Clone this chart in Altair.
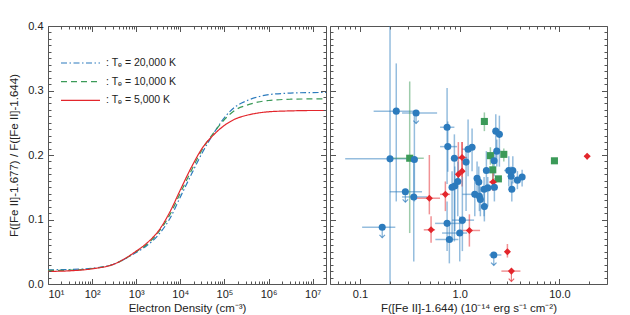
import altair as alt
import pandas as pd

# ---------------- Left panel: model line ratio vs electron density ----------------
density = [10, 31.6, 100, 316, 1000, 1778, 3162, 5623, 1e4, 17783, 31623, 56234,
           1e5, 177828, 316228, 562341, 1e6, 3.16e6, 1e7, 2e7]
ratio_te20000 = [0.022, 0.0225, 0.0245, 0.031, 0.049, 0.060, 0.076, 0.100, 0.135, 0.170,
                 0.204, 0.233, 0.258, 0.275, 0.284, 0.290, 0.2935, 0.296, 0.2968, 0.297]
ratio_te10000 = [0.021, 0.0215, 0.024, 0.031, 0.050, 0.062, 0.080, 0.106, 0.141, 0.176,
                 0.209, 0.234, 0.255, 0.270, 0.277, 0.282, 0.2845, 0.2865, 0.287, 0.2872]
ratio_te5000 = [0.0195, 0.0205, 0.0235, 0.031, 0.051, 0.064, 0.082, 0.110, 0.146, 0.181,
                0.211, 0.231, 0.246, 0.256, 0.2615, 0.265, 0.267, 0.2684, 0.269, 0.269]
temps = ["20,000", "10,000", "5,000"]
line_colors = ["#2c7bbd", "#3b9a58", "#e3262c"]
line_dashes = [[6, 2.5, 1.5, 2.5], [6, 4], [1, 0]]

# ---------------- Right panel: observed ratios vs [Fe II] 1.644 flux ----------------
flux = [0.231, 0.365, 0.747, 0.759, 0.200, 0.315, 0.351, 0.884, 1.056, 1.213,
        1.330, 1.767, 2.300, 2.500, 2.354, 2.030, 2.768, 2.211, 8.910, 18.97,
        1.158, 0.969, 1.056, 2.146, 1.851, 3.106, 3.408, 3.276, 4.225, 3.789,
        2.443, 2.161, 2.227, 3.330, 1.493, 1.553, 1.416, 1.755, 1.912, 1.575,
        1.611, 1.767, 0.956, 0.892, 0.838, 0.285, 0.346, 0.496, 0.718, 0.167,
        0.516, 0.747, 1.063, 1.000, 1.250, 0.787, 2.196, 3.008, 3.299]
ratio_obs = [0.268, 0.265, 0.243, 0.213, 0.194, 0.195, 0.193, 0.195, 0.196, 0.209,
             0.212, 0.252, 0.237, 0.232, 0.206, 0.199, 0.201, 0.191, 0.191, 0.198,
             0.189, 0.170, 0.175, 0.177, 0.176, 0.176, 0.176, 0.167, 0.166, 0.161,
             0.163, 0.158, 0.150, 0.147, 0.164, 0.158, 0.139, 0.147, 0.149, 0.136,
             0.131, 0.120, 0.159, 0.152, 0.150, 0.143, 0.135, 0.133, 0.139, 0.088,
             0.084, 0.094, 0.099, 0.079, 0.083, 0.069, 0.045, 0.050, 0.020]
flux_lo = [0.137, 0.264, 0.635, 0.635, 0.071, 0.209, 0.351, 0.838, 0.940, 1.056,
           1.330, 1.767, 2.300, 2.500, 2.354, 2.030, 2.768, 2.211, 8.910, 17.70,
           1.158, 0.969, 1.056, 2.146, 1.851, 2.787, 3.408, 3.276, 4.225, 3.789,
           2.211, 1.970, 2.227, 3.330, 1.493, 1.553, 1.063, 1.755, 1.912, 1.575,
           1.611, 1.767, 0.956, 0.892, 0.838, 0.199, 0.264, 0.360, 0.635, 0.105,
           0.436, 0.566, 0.838, 0.665, 1.008, 0.570, 1.970, 3.008, 2.618]
flux_hi = [0.365, 0.593, 0.884, 0.940, 0.332, 0.436, 0.351, 1.056, 1.185, 1.393,
           1.330, 1.767, 2.300, 2.500, 2.354, 2.030, 2.768, 2.211, 8.910, 20.33,
           1.158, 0.969, 1.056, 2.146, 1.851, 3.512, 3.408, 3.276, 4.225, 3.789,
           2.661, 2.370, 2.227, 3.330, 1.493, 1.553, 1.676, 1.755, 1.912, 1.575,
           1.611, 1.767, 0.956, 0.892, 0.838, 0.419, 0.470, 0.635, 0.800, 0.226,
           0.566, 1.106, 1.393, 1.185, 1.600, 0.970, 2.618, 3.008, 4.062]
ratio_lo = [0.128, 0.265, 0.155, 0.174, -0.05, 0.079, 0.128, 0.066, 0.166, 0.167,
            0.175, 0.237, 0.190, 0.182, 0.182, 0.185, 0.190, 0.167, 0.191, 0.193,
            0.113, 0.159, 0.151, 0.159, 0.151, 0.151, 0.156, 0.144, 0.151, 0.147,
            0.163, 0.144, 0.128, 0.128, 0.136, 0.128, 0.105, 0.105, 0.120, 0.113,
            0.105, 0.097, 0.105, 0.082, 0.066, 0.143, 0.035, 0.108, 0.113, 0.088,
            0.064, 0.051, 0.051, 0.035, 0.058, 0.032, 0.045, 0.041, 0.020]
ratio_hi = [0.342, 0.265, 0.304, 0.252, 0.45, 0.314, 0.264, 0.232, 0.220, 0.255,
            0.241, 0.266, 0.263, 0.261, 0.224, 0.212, 0.210, 0.206, 0.191, 0.202,
            0.206, 0.220, 0.220, 0.196, 0.206, 0.198, 0.198, 0.182, 0.177, 0.175,
            0.163, 0.175, 0.162, 0.159, 0.190, 0.182, 0.166, 0.166, 0.166, 0.159,
            0.151, 0.144, 0.190, 0.182, 0.175, 0.143, 0.190, 0.200, 0.159, 0.088,
            0.105, 0.128, 0.166, 0.105, 0.108, 0.097, 0.045, 0.062, 0.020]
group = ["B", "B", "B", "B", "B", "G", "B", "B", "R", "B",
         "B", "G", "B", "B", "B", "G", "G", "B", "G", "R",
         "B", "R", "R", "G", "B", "B", "B", "B", "B", "B",
         "G", "R", "B", "B", "B", "B", "B", "B", "B", "B",
         "B", "B", "B", "B", "B", "B", "B", "R", "R", "B",
         "R", "B", "B", "B", "R", "B", "B", "R", "R"]
upper_limit = [0, 1, 0, 0, 0, 0, 0, 0, 0, 0,
               0, 0, 0, 0, 0, 0, 0, 0, 0, 0,
               0, 0, 0, 0, 0, 0, 0, 0, 0, 0,
               0, 0, 0, 0, 0, 0, 0, 0, 0, 0,
               0, 0, 0, 0, 0, 1, 0, 0, 0, 1,
               0, 0, 0, 0, 0, 0, 1, 0, 1]
groups = ["B", "G", "R"]
group_colors = ["#1f6fba", "#1f8a44", "#d81e27"]
group_shapes = ["circle", "square", "diamond"]

# ---------------- axes / ticks ----------------
y_major = [0.0, 0.1, 0.2, 0.3, 0.4]
y_minor = [round(i * 0.01, 2) for i in range(41) if i % 10 != 0]
xl_major = [1e1, 1e2, 1e3, 1e4, 1e5, 1e6, 1e7]
xl_minor = [m * 10 ** k for k in range(1, 7) for m in range(2, 10)]
xr_major = [0.1, 1.0, 10.0]
xr_minor = [0.06, 0.07, 0.08, 0.09, 0.2, 0.3, 0.4, 0.5, 0.6, 0.7, 0.8, 0.9,
            2, 3, 4, 5, 6, 7, 8, 9, 20]

FONT = "Liberation Sans"
FRAME = "#555555"
TXT = "#222222"
W1, W2, H = 278, 277, 258

rows = []
for t, vals in zip(temps, [ratio_te20000, ratio_te10000, ratio_te5000]):
    for d, v in zip(density, vals):
        rows.append({"density": d, "ratio": v, "temp": t})
curves = pd.DataFrame(rows)

obs = pd.DataFrame({
    "flux": flux, "ratio": ratio_obs, "flux_lo": flux_lo, "flux_hi": flux_hi,
    "ratio_lo": ratio_lo, "ratio_hi": ratio_hi, "group": group, "limit": upper_limit,
})

yscale = alt.Scale(domain=[0, 0.4], nice=False, zero=False)
xl_scale = alt.Scale(type="log", domain=[10, 2e7], nice=False)
xr_scale = alt.Scale(type="log", domain=[0.05, 30], nice=False)


def tick_axis(orient, offset, values, size):
    return alt.Axis(orient=orient, offset=offset, values=values, tickSize=size,
                    labels=False, domain=False, grid=False, title=None,
                    ticks=True, tickColor=FRAME, tickWidth=1, zindex=1)


def tick_layers(data, xfield, yfield, xscale, width, xmaj, xmin):
    out = []
    for xv, yv, size in [(xmaj, y_major, 5.5), (xmin, y_minor, 3)]:
        for xo, yo in [("top", "right"), ("bottom", "left")]:
            out.append(
                alt.Chart(data).mark_point(opacity=0, size=1).encode(
                    x=alt.X(xfield, type="quantitative", scale=xscale,
                            axis=tick_axis(xo, -H, xv, size)),
                    y=alt.Y(yfield, type="quantitative", scale=yscale,
                            axis=tick_axis(yo, -width, yv, size)),
                )
            )
    return out


label_axis_common = dict(ticks=False, domain=False, grid=False, labelFont=FONT,
                         labelFontSize=11, labelColor=TXT, titleFont=FONT,
                         titleFontSize=11.5, titleFontWeight="normal", titleColor=TXT)

# ---------------- left panel ----------------
lines = alt.Chart(curves).mark_line(strokeWidth=1.2, interpolate="monotone").encode(
    x=alt.X("density:Q", scale=xl_scale, axis=alt.Axis(
        values=xl_major,
        labelExpr="['','10¹','10²','10³','10⁴','10⁵','10⁶','10⁷'][round(log(datum.value)/LN10)]",
        labelPadding=4, title="Electron Density (cm⁻³)", titlePadding=3,
        **label_axis_common)),
    y=alt.Y("ratio:Q", scale=yscale, axis=alt.Axis(
        values=y_major, format=".1f", labelPadding=5,
        title="F([Fe II]-1.677) / F([Fe II]-1.644)", titlePadding=8,
        **label_axis_common)),
    color=alt.Color("temp:N", scale=alt.Scale(domain=temps, range=line_colors), legend=None),
    strokeDash=alt.StrokeDash("temp:N", scale=alt.Scale(domain=temps, range=line_dashes), legend=None),
)

legend_layers = []
one = pd.DataFrame({"k": [0]})
for i, (t, c, d) in enumerate(zip(temps, line_colors, line_dashes)):
    yy = 37 + i * 18.7
    legend_layers.append(
        alt.Chart(one).mark_rule(color=c, strokeDash=d, strokeWidth=1.2).encode(
            x=alt.value(13), x2=alt.value(52), y=alt.value(yy)))
    legend_layers.append(
        alt.Chart(one).mark_text(align="left", baseline="middle", font=FONT,
                                 fontSize=10.5, color=TXT).encode(
            x=alt.value(58), y=alt.value(yy), text=alt.value(f": Tₑ = {t} K")))

left = alt.layer(
    lines, *tick_layers(curves, "density", "ratio", xl_scale, W1, xl_major, xl_minor),
    *legend_layers
).properties(width=W1, height=H).resolve_axis(x="independent", y="independent")

# ---------------- right panel ----------------
color_enc = alt.Color("group:N", scale=alt.Scale(domain=groups, range=group_colors), legend=None)
base = alt.Chart(obs)

hbars = base.transform_filter("datum.flux_hi > datum.flux_lo").mark_rule(
    clip=True, strokeWidth=1.5, opacity=0.5).encode(
    x=alt.X("flux_lo:Q", scale=xr_scale, axis=None), x2="flux_hi:Q",
    y=alt.Y("ratio:Q", scale=yscale, axis=None), color=color_enc)

vbars = base.transform_filter("datum.ratio_hi > datum.ratio_lo").mark_rule(
    clip=True, strokeWidth=1.5, opacity=0.5).encode(
    x=alt.X("flux:Q", scale=xr_scale, axis=None),
    y=alt.Y("ratio_lo:Q", scale=yscale, axis=None), y2="ratio_hi:Q", color=color_enc)

limits = base.transform_filter("datum.limit == 1").transform_calculate(tip="datum.ratio - 0.016")
stems = limits.mark_rule(strokeWidth=1.2, opacity=0.6).encode(
    x=alt.X("flux:Q", scale=xr_scale, axis=None),
    y=alt.Y("ratio:Q", scale=yscale, axis=None), y2="tip:Q", color=color_enc)
heads = limits.mark_point(shape="M-1,-1L0,0L1,-1", filled=False, size=30,
                          strokeWidth=1.2, opacity=0.7).encode(
    x=alt.X("flux:Q", scale=xr_scale, axis=None),
    y=alt.Y("tip:Q", scale=yscale, axis=None), color=color_enc)

points = base.mark_point(filled=True, size=50, opacity=1).encode(
    x=alt.X("flux:Q", scale=xr_scale, axis=alt.Axis(
        values=xr_major, format=".1f", labelPadding=4,
        title="F([Fe II]-1.644) (10⁻¹⁴ erg s⁻¹ cm⁻²)", titlePadding=3,
        **label_axis_common)),
    y=alt.Y("ratio:Q", scale=yscale, axis=None),
    color=color_enc,
    shape=alt.Shape("group:N", scale=alt.Scale(domain=groups, range=group_shapes), legend=None),
)

right = alt.layer(
    hbars, vbars, stems, heads, points,
    *tick_layers(obs, "flux", "ratio", xr_scale, W2, xr_major, xr_minor)
).properties(width=W2, height=H).resolve_axis(x="independent", y="independent")

chart = alt.hconcat(left, right, spacing=0).properties(
    padding={"left": 0, "top": 11, "right": 5, "bottom": 0}
).configure_view(stroke=FRAME, strokeWidth=1)

chart.save("out.html", embed_options={"renderer": "svg", "actions": False})
